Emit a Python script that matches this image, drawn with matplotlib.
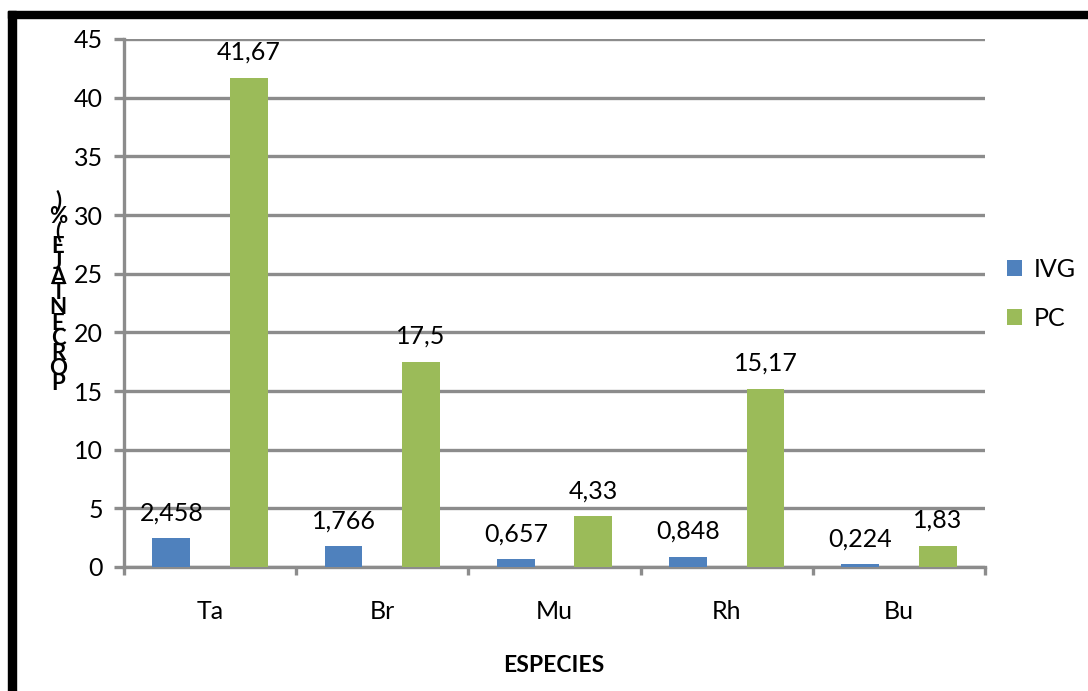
import matplotlib
matplotlib.use("Agg")
import matplotlib.pyplot as plt
from matplotlib.patches import Rectangle
import numpy as np

# Data
species = ["Ta", "Br", "Mu", "Rh", "Bu"]
ivg = [2.458, 1.766, 0.657, 0.848, 0.224]
pc = [41.67, 17.5, 4.33, 15.17, 1.83]
y_ticks = [0, 5, 10, 15, 20, 25, 30, 35, 40, 45]
series_names = ["IVG", "PC"]
y_label = "PORCENTAJE (%)"
x_label = "ESPECIES"

plt.rcParams["font.family"] = ["Lato", "DejaVu Sans"]

W, H, DPI = 1088, 691, 100
fig = plt.figure(figsize=(W / DPI, H / DPI), dpi=DPI)
ax = fig.add_axes([124 / W, 1 - 567 / H, (985 - 124) / W, (567 - 39) / H])

grid_c = "#8c8c8c"
blue = "#4f81bd"
green = "#9bbb59"
fs = 18

x = np.arange(len(species))
bw = 0.22
off = 0.225
b1 = ax.bar(x - off, ivg, bw, color=blue, label=series_names[0], zorder=3)
b2 = ax.bar(x + off, pc, bw, color=green, label=series_names[1], zorder=3)


def fmt(v):
    return f"{v:g}".replace(".", ",")


for bars, vals in ((b1, ivg), (b2, pc)):
    for rect, v in zip(bars, vals):
        ax.annotate(fmt(v), (rect.get_x() + rect.get_width() / 2, v),
                    xytext=(0, 13), textcoords="offset points",
                    ha="center", va="baseline", fontsize=fs, color="black")

ax.set_xlim(-0.5, len(species) - 0.5)
ax.set_ylim(0, 45)
ax.set_yticks(y_ticks)
ax.set_yticklabels([str(t) for t in y_ticks])
ax.yaxis.grid(True, color=grid_c, linewidth=2.4, zorder=0)
ax.set_axisbelow(True)

# category boundaries carry the tick marks, centers carry the labels
ax.set_xticks(np.arange(len(species) + 1) - 0.5)
ax.set_xticklabels([])
ax.set_xticks(x, minor=True)
ax.set_xticklabels(species, minor=True)
ax.tick_params(axis="x", which="major", length=6, width=2.4, color=grid_c)
ax.tick_params(axis="x", which="minor", length=0, pad=24, labelsize=fs)
ax.tick_params(axis="y", length=7, width=2.4, color=grid_c, pad=8, labelsize=fs)

for s in ("top", "right"):
    ax.spines[s].set_visible(False)
for s in ("left", "bottom"):
    ax.spines[s].set_color(grid_c)
    ax.spines[s].set_linewidth(2.4)

leg = ax.legend(loc="center left", bbox_to_anchor=(1.026, 0.517), frameon=False,
                fontsize=fs, handlelength=0.6, handleheight=0.6,
                handletextpad=0.45, labelspacing=1.05, borderpad=0, borderaxespad=0)

fig.text(554 / W, 1 - 665 / H, x_label, ha="center", va="center",
         fontsize=16.5, fontweight="bold")

# stacked y-axis title, read from bottom to top
stacked = "\n".join(reversed(list(y_label.replace(" ", ""))))
fig.text(58 / W, 1 - 292 / H, stacked, ha="center", va="center",
         fontsize=16, fontweight="bold", linespacing=0.66)

# heavy frame on the top and left edges
fig.patches.append(Rectangle((8 / W, 0), 8 / W, 1 - 11 / H, transform=fig.transFigure,
                             color="black", zorder=10))
fig.patches.append(Rectangle((8 / W, 1 - 18 / H), 1, 7 / H, transform=fig.transFigure,
                             color="black", zorder=10))

fig.savefig("out.png", dpi=DPI)
